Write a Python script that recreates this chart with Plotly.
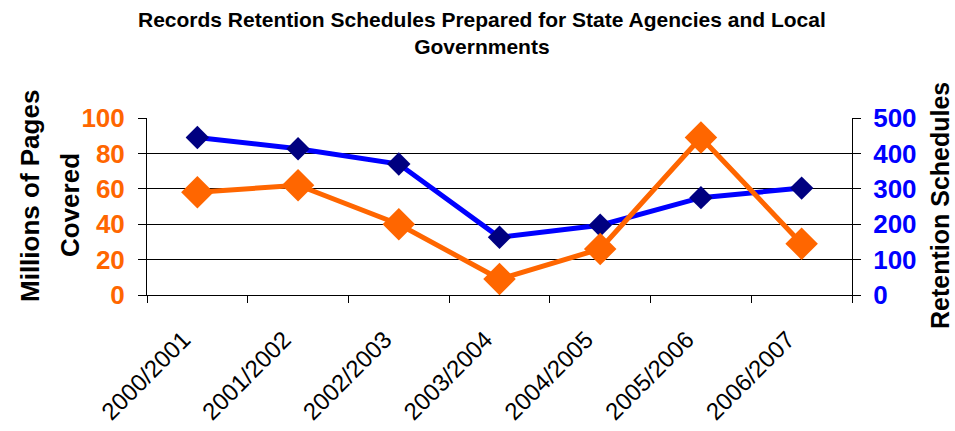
import plotly.graph_objects as go

categories = ["2000/2001", "2001/2002", "2002/2003", "2003/2004", "2004/2005", "2005/2006", "2006/2007"]
pages_millions = [58, 62, 40, 9, 26, 89, 29]
retention_schedules = [445, 413, 370, 163, 197, 275, 302]

left_ticks = [0, 20, 40, 60, 80, 100]
right_ticks = [0, 100, 200, 300, 400, 500]

FONT = "Liberation Sans, Arial, sans-serif"

# plot area in pixels (for placing text)
PL, PR, PT, PB = 147, 852, 118, 295


def px_x(px):
    return (px - PL) / (PR - PL)


def px_y(py):
    return (PB - py) / (PB - PT)


fig = go.Figure()
fig.add_trace(go.Scatter(
    x=categories, y=retention_schedules, yaxis="y", mode="lines+markers",
    line=dict(color="#0000FF", width=5),
    marker=dict(symbol="diamond", size=18, color="#000080"),
    name="Retention Schedules", cliponaxis=False,
))
fig.add_trace(go.Scatter(
    x=categories, y=pages_millions, yaxis="y2", mode="lines+markers",
    line=dict(color="#FF6600", width=5),
    marker=dict(symbol="diamond", size=25, color="#FF6600"),
    name="Millions of Pages Covered", cliponaxis=False,
))

title_font = dict(size=26, family=FONT, color="black")
fig.update_layout(
    width=955, height=431,
    margin=dict(l=PL, r=955 - PR, t=PT, b=431 - PB, autoexpand=False),
    paper_bgcolor="white", plot_bgcolor="white",
    showlegend=False,
    font=dict(family=FONT, color="black"),
    annotations=[
        dict(text="<b>Records Retention Schedules Prepared for State Agencies and Local<br>Governments</b>",
             xref="paper", yref="paper", x=px_x(482), y=px_y(6), xanchor="center", yanchor="top",
             showarrow=False, font=dict(size=21, family=FONT, color="black")),
        dict(text="<b>Millions of Pages</b>", textangle=-90,
             xref="paper", yref="paper", x=px_x(30), y=px_y(196), xanchor="center", yanchor="middle",
             showarrow=False, font=title_font),
        dict(text="<b>Covered</b>", textangle=-90,
             xref="paper", yref="paper", x=px_x(70), y=px_y(205), xanchor="center", yanchor="middle",
             showarrow=False, font=title_font),
        dict(text="<b>Retention Schedules</b>", textangle=-90,
             xref="paper", yref="paper", x=px_x(940), y=px_y(206), xanchor="center", yanchor="middle",
             showarrow=False, font=dict(size=25, family=FONT, color="black")),
    ],
    xaxis=dict(
        type="category", tickangle=-45, tickson="boundaries",
        ticks="outside", ticklen=7, tickcolor="black", automargin=False,
        showline=True, linecolor="black", linewidth=1,
        showgrid=False, tickfont=dict(size=24, family=FONT, color="black"),
        ticklabelstandoff=20, ticklabelshift=-14,
        range=[-0.5, 6.5],
    ),
    yaxis=dict(
        side="right", range=[0, 500], tickvals=right_ticks,
        ticks="outside", ticklen=8, tickcolor="black", automargin=False,
        showline=True, linecolor="black", linewidth=1,
        showgrid=True, gridcolor="black", gridwidth=1,
        zeroline=False, ticklabelstandoff=7,
        tickfont=dict(size=26, family=FONT, color="#0000FF", weight="bold"),
    ),
    yaxis2=dict(
        side="left", overlaying="y", range=[0, 100], tickvals=left_ticks,
        ticks="outside", ticklen=8, tickcolor="black", automargin=False,
        showline=True, linecolor="black", linewidth=1,
        showgrid=False, zeroline=False, ticklabelstandoff=8,
        tickfont=dict(size=26, family=FONT, color="#FF6600", weight="bold"),
    ),
)

fig.write_html("out.html", config={"displayModeBar": False},
               post_script="document.body.style.margin='0';")
